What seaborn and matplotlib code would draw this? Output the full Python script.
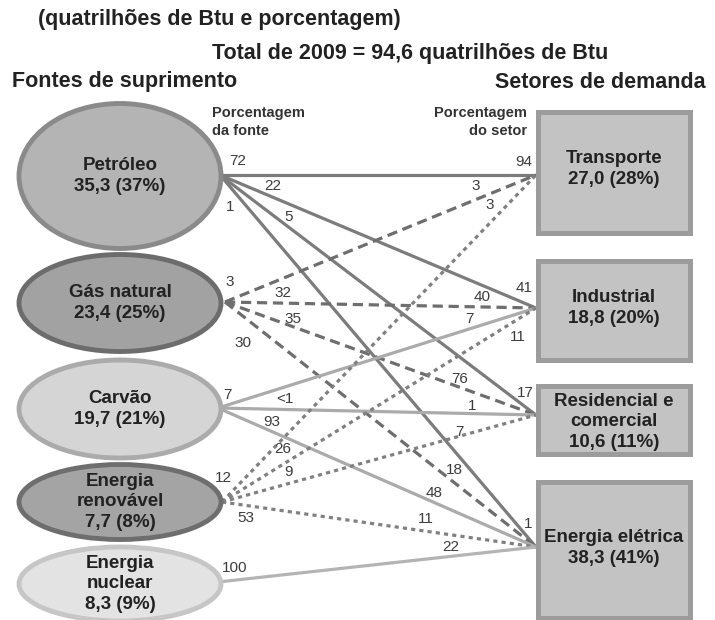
import numpy as np
import pandas as pd
import seaborn as sns
import matplotlib.pyplot as plt
from matplotlib.patches import Ellipse, Rectangle

# fontes de suprimento (quatrilhões de Btu e % do total)
SOURCES = ["Petróleo", "Gás natural", "Carvão", "Energia\nrenovável", "Energia\nnuclear"]
SOURCE_VALUES = [35.3, 23.4, 19.7, 7.7, 8.3]
SOURCE_SHARES = [37, 25, 21, 8, 9]

# setores de demanda
SECTORS = ["Transporte", "Industrial", "Residencial e\ncomercial", "Energia elétrica"]
SECTOR_VALUES = [27.0, 18.8, 10.6, 38.3]
SECTOR_SHARES = [28, 20, 11, 41]

# fluxos fonte -> setor
FLOW_SOURCE = [0, 0, 0, 0, 1, 1, 1, 1, 2, 2, 2, 3, 3, 3, 3, 4]
FLOW_SECTOR = [0, 1, 2, 3, 0, 1, 2, 3, 1, 2, 3, 0, 1, 2, 3, 3]
FLOW_SOURCE_PCT = ["72", "22", "5", "1", "3", "32", "35", "30", "7", "<1", "93",
                   "12", "26", "9", "53", "100"]
FLOW_SECTOR_PCT = ["94", "41", "17", "1", "3", "40", "76", "18", "7", "1", "48",
                   "3", "11", "7", "11", "22"]

# ---- layout (pixels) ----
SRC_CX, SRC_W = 120, 202
SRC_CY = [176, 303, 409, 502, 584]
SRC_H = [145, 97, 98, 75, 74]
SRC_ANCHOR = [(220, 175), (225, 302), (218, 408), (222, 502), (218, 582)]
SRC_FACE = ["#b4b4b4", "#a2a2a2", "#d5d5d5", "#a4a4a4", "#e3e3e3"]
SRC_EDGE = ["#8a8a8a", "#6c6c6c", "#ababab", "#6e6e6e", "#c6c6c6"]

BOX_X0, BOX_X1 = 538, 690
BOX_Y = [(112, 233), (261, 360), (386, 454), (482, 618)]
BOX_LABEL_Y = [169, 308, 422, 548]
SECTOR_ANCHOR = [(536, 175), (536, 308), (536, 415), (536, 547)]

LINE_COLORS = {"Petróleo": "#7c7c7c", "Gás natural": "#6e6e6e", "Carvão": "#ababab",
               "Energia\nrenovável": "#808080", "Energia\nnuclear": "#b4b4b4"}
LINE_DASHES = {"Petróleo": "", "Gás natural": (3.2, 1.8), "Carvão": "",
               "Energia\nrenovável": (1.3, 1.3), "Energia\nnuclear": ""}

# label placement: fraction along the line + pixel offset
SRC_LBL = [(0.057, 0, -14), (0.168, 0, -11), (0.218, 0, -10), (0.032, 0, 20),
           (0.016, 0, -18), (0.186, 0, -10), (0.219, 0, -8), (0.058, 0, 27),
           (0.031, 0, -10), (0.21, 0, -10), (0.17, 0, -10),
           (0.0, 1, -24), (0.194, 0, -15), (0.213, 0, -11), (0.076, 0, 13),
           (0.053, 0, -12)]
TGT_LBL = [(0.962, 0, -13), (0.962, 0, -15), (0.965, 0, -14), (0.975, 0, -14),
           (0.807, 0, -14), (0.826, 0, -10), (0.756, 0, -8), (0.736, 0, -12),
           (0.792, 0, -10), (0.80, 0, -8), (0.679, 0, -9),
           (0.908, -17, 0), (0.943, 0, 18), (0.755, 0, -4), (0.65, 0, -12),
           (0.733, 0, -9)]

sns.set_theme(style="white")
plt.rcParams["font.family"] = ["Liberation Sans", "DejaVu Sans"]

fig = plt.figure(figsize=(7.15, 6.2), dpi=100)
ax = fig.add_axes([0, 0, 1, 1])

rows = []
for i, (s, t) in enumerate(zip(FLOW_SOURCE, FLOW_SECTOR)):
    for (x, y) in (SRC_ANCHOR[s], SECTOR_ANCHOR[t]):
        rows.append({"flow": i, "source": SOURCES[s], "x": x, "y": y})
df = pd.DataFrame(rows)

sns.lineplot(data=df, x="x", y="y", hue="source", style="source", units="flow",
             estimator=None, sort=False, palette=LINE_COLORS, dashes=LINE_DASHES,
             linewidth=2.3, legend=False, ax=ax)


def fmt(v, s):
    return f"{v:.1f}".replace(".", ",") + f" ({s}%)"


for i, name in enumerate(SOURCES):
    ax.add_patch(Ellipse((SRC_CX, SRC_CY[i]), SRC_W, SRC_H[i], facecolor=SRC_FACE[i],
                         edgecolor=SRC_EDGE[i], linewidth=3.5, zorder=3))
    ax.text(SRC_CX, SRC_CY[i], name + "\n" + fmt(SOURCE_VALUES[i], SOURCE_SHARES[i]),
            ha="center", va="center", fontsize=13.5, fontweight="bold",
            color="#222222", linespacing=1.25, zorder=5)

for i, name in enumerate(SECTORS):
    y0, y1 = BOX_Y[i]
    ax.add_patch(Rectangle((BOX_X0, y0), BOX_X1 - BOX_X0, y1 - y0, facecolor="#c3c3c3",
                           edgecolor="#9c9c9c", linewidth=3.6, zorder=3))
    ax.text((BOX_X0 + BOX_X1) / 2, BOX_LABEL_Y[i],
            name + "\n" + fmt(SECTOR_VALUES[i], SECTOR_SHARES[i]),
            ha="center", va="center", fontsize=13.5, fontweight="bold",
            color="#222222", linespacing=1.25, zorder=5)

for i, (s, t) in enumerate(zip(FLOW_SOURCE, FLOW_SECTOR)):
    a = np.array(SRC_ANCHOR[s], float)
    b = np.array(SECTOR_ANCHOR[t], float)
    for lbl, (f, dx, dy) in ((FLOW_SOURCE_PCT[i], SRC_LBL[i]), (FLOW_SECTOR_PCT[i], TGT_LBL[i])):
        p = a + f * (b - a)
        ax.text(p[0] + dx, p[1] + dy, lbl, ha="center", va="center",
                fontsize=11, color="#3c3c3c", zorder=6)

ax.text(38, 19, "(quatrilhões de Btu e porcentagem)", ha="left", va="center",
        fontsize=15.5, fontweight="bold", color="#222222")
ax.text(410, 54, "Total de 2009 = 94,6 quatrilhões de Btu", ha="center", va="center",
        fontsize=15.5, fontweight="bold", color="#222222")
ax.text(12, 82, "Fontes de suprimento", ha="left", va="center",
        fontsize=15.5, fontweight="bold", color="#222222")
ax.text(706, 82, "Setores de demanda", ha="right", va="center",
        fontsize=15.5, fontweight="bold", color="#222222")
ax.text(212, 122, "Porcentagem\nda fonte", ha="left", va="center",
        fontsize=10.5, fontweight="bold", color="#333333", linespacing=1.3)
ax.text(527, 122, "Porcentagem\ndo setor", ha="right", va="center",
        fontsize=10.5, fontweight="bold", color="#333333", linespacing=1.3)

ax.set_xlim(0, 715)
ax.set_ylim(620, 0)
ax.axis("off")

fig.savefig("out.png", dpi=100, facecolor="white")
